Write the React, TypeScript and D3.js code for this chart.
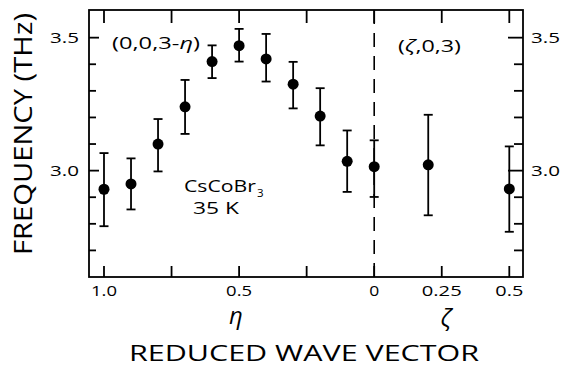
import React from "react";
import * as d3 from "d3";

// η branch (0,0,3-η): η values, frequency and error-bar limits (THz)
const etaValues = [1.0, 0.9, 0.8, 0.7, 0.6, 0.5, 0.4, 0.3, 0.2, 0.1, 0.0];
const etaFreq = [2.93, 2.95, 3.10, 3.24, 3.41, 3.47, 3.42, 3.325, 3.205, 3.035, 3.015];
const etaHi = [3.066, 3.046, 3.194, 3.341, 3.471, 3.533, 3.514, 3.409, 3.31, 3.151, 3.114];
const etaLo = [2.791, 2.854, 2.997, 3.138, 3.348, 3.41, 3.335, 3.234, 3.095, 2.92, 2.901];

// ζ branch (ζ,0,3)
const zetaValues = [0.2, 0.5];
const zetaFreq = [3.022, 2.931];
const zetaHi = [3.21, 3.091];
const zetaLo = [2.832, 2.77];

// axis ticks (position in combined coordinate u: η -> 1-η, ζ -> 1+ζ)
const xTickU = [0, 0.25, 0.5, 0.75, 1, 1.25, 1.5];
const xTickLabels = [
  { u: 0, text: "1.0", w: 26 },
  { u: 0.5, text: "0.5", w: 26 },
  { u: 1, text: "0", w: 10 },
  { u: 1.25, text: "0.25", w: 40 },
  { u: 1.5, text: "0.5", w: 28 },
];
const yMinorTicks = [2.7, 2.8, 2.9, 3.1, 3.2, 3.3, 3.4];
const yMajorTicks = [3.0, 3.5];
const yTickLabels = ["3.0", "3.5"];

const W = 561;
const H = 367;
const frame = { left: 89, right: 523, top: 10, bottom: 277 };

const FONT = "'Open Sans', 'DejaVu Sans', sans-serif";

export default function App() {
  const x = d3.scaleLinear().domain([-0.0555, 1.5507]).range([frame.left, frame.right]);
  const y = d3.scaleLinear().domain([2.6, 3.604]).range([frame.bottom, frame.top]);

  const points = [
    ...etaValues.map((e, i) => ({ u: 1 - e, f: etaFreq[i], hi: etaHi[i], lo: etaLo[i] })),
    ...zetaValues.map((z, i) => ({ u: 1 + z, f: zetaFreq[i], hi: zetaHi[i], lo: zetaLo[i] })),
  ];

  const sw = 1.8;
  return (
    <svg
      width={W}
      height={H}
      style={{ position: "fixed", left: 0, top: 0, background: "#fff" }}
      fontFamily={FONT}
      fontWeight={400}
    >
      <rect x={0} y={0} width={W} height={H} fill="#fff" />
      {/* frame */}
      <rect
        x={frame.left}
        y={frame.top}
        width={frame.right - frame.left}
        height={frame.bottom - frame.top}
        fill="none"
        stroke="#000"
        strokeWidth={sw}
      />
      {/* dashed separator at η=0 / ζ=0 */}
      <line
        x1={x(1)}
        x2={x(1)}
        y1={frame.top}
        y2={frame.bottom}
        stroke="#000"
        strokeWidth={1.6}
        strokeDasharray="14 9"
      />
      {/* x ticks */}
      {xTickU.map((u) => (
        <g key={"xt" + u}>
          <line x1={x(u)} x2={x(u)} y1={frame.top} y2={frame.top + 13} stroke="#000" strokeWidth={sw} />
          <line x1={x(u)} x2={x(u)} y1={frame.bottom} y2={frame.bottom - 11} stroke="#000" strokeWidth={sw} />
        </g>
      ))}
      {/* y ticks */}
      {yMinorTicks.map((v) => (
        <g key={"ym" + v}>
          <line x1={frame.left} x2={frame.left + 7} y1={y(v)} y2={y(v)} stroke="#000" strokeWidth={sw} />
          <line x1={frame.right} x2={frame.right - 9} y1={y(v)} y2={y(v)} stroke="#000" strokeWidth={sw} />
        </g>
      ))}
      {yMajorTicks.map((v) => (
        <g key={"yM" + v}>
          <line x1={frame.left} x2={frame.left + 10} y1={y(v)} y2={y(v)} stroke="#000" strokeWidth={sw} />
          <line x1={frame.right} x2={frame.right - 15} y1={y(v)} y2={y(v)} stroke="#000" strokeWidth={sw} />
        </g>
      ))}
      {/* y tick labels */}
      {yMajorTicks.map((v, i) => (
        <g key={"yl" + v} fontSize={15}>
          <text x={50} y={y(v) + 5.5} textLength={29} lengthAdjust="spacingAndGlyphs">
            {yTickLabels[i]}
          </text>
          <text x={531} y={y(v) + 5.5} textLength={29} lengthAdjust="spacingAndGlyphs">
            {yTickLabels[i]}
          </text>
        </g>
      ))}
      {/* x tick labels */}
      {xTickLabels.map((t) => (
        <text
          key={"xl" + t.u}
          x={x(t.u) - t.w / 2}
          y={295.5}
          fontSize={15}
          textLength={t.w}
          lengthAdjust="spacingAndGlyphs"
        >
          {t.text}
        </text>
      ))}
      {/* error bars and points */}
      {points.map((p, i) => (
        <g key={"p" + i}>
          <line x1={x(p.u)} x2={x(p.u)} y1={y(p.hi)} y2={y(p.lo)} stroke="#000" strokeWidth={sw} />
          <line x1={x(p.u) - 4.5} x2={x(p.u) + 4.5} y1={y(p.hi)} y2={y(p.hi)} stroke="#000" strokeWidth={sw} />
          <line x1={x(p.u) - 4.5} x2={x(p.u) + 4.5} y1={y(p.lo)} y2={y(p.lo)} stroke="#000" strokeWidth={sw} />
          <circle cx={x(p.u)} cy={y(p.f)} r={5.5} fill="#000" />
        </g>
      ))}
      {/* annotations */}
      <text x={112} y={49} fontSize={17} textLength={88} lengthAdjust="spacingAndGlyphs">
        (0,0,3-<tspan fontStyle="italic">η</tspan>)
      </text>
      <text x={398} y={52} fontSize={17} textLength={63} lengthAdjust="spacingAndGlyphs">
        (<tspan fontStyle="italic">ζ</tspan>,0,3)
      </text>
      <text x={184} y={192} fontSize={15.5} textLength={72} lengthAdjust="spacingAndGlyphs">
        CsCoBr
      </text>
      <text x={257} y={197} fontSize={11.5}>
        3
      </text>
      <text x={193} y={213.5} fontSize={15.5} textLength={46} lengthAdjust="spacingAndGlyphs">
        35 K
      </text>
      {/* branch symbols */}
      <text x={236} y={324} fontSize={24} fontStyle="italic" textAnchor="middle">
        η
      </text>
      <text x={446} y={326} fontSize={24} fontStyle="italic" textAnchor="middle">
        ζ
      </text>
      {/* axis titles */}
      <text
        x={304}
        y={361.3}
        fontSize={22.5}
        textAnchor="middle"
        textLength={350}
        lengthAdjust="spacingAndGlyphs"
      >
        REDUCED WAVE VECTOR
      </text>
      <text
        x={32}
        y={134}
        fontSize={25}
        textAnchor="middle"
        textLength={242}
        lengthAdjust="spacingAndGlyphs"
        transform="rotate(-90, 32, 134)"
      >
        FREQUENCY (THz)
      </text>
    </svg>
  );
}
